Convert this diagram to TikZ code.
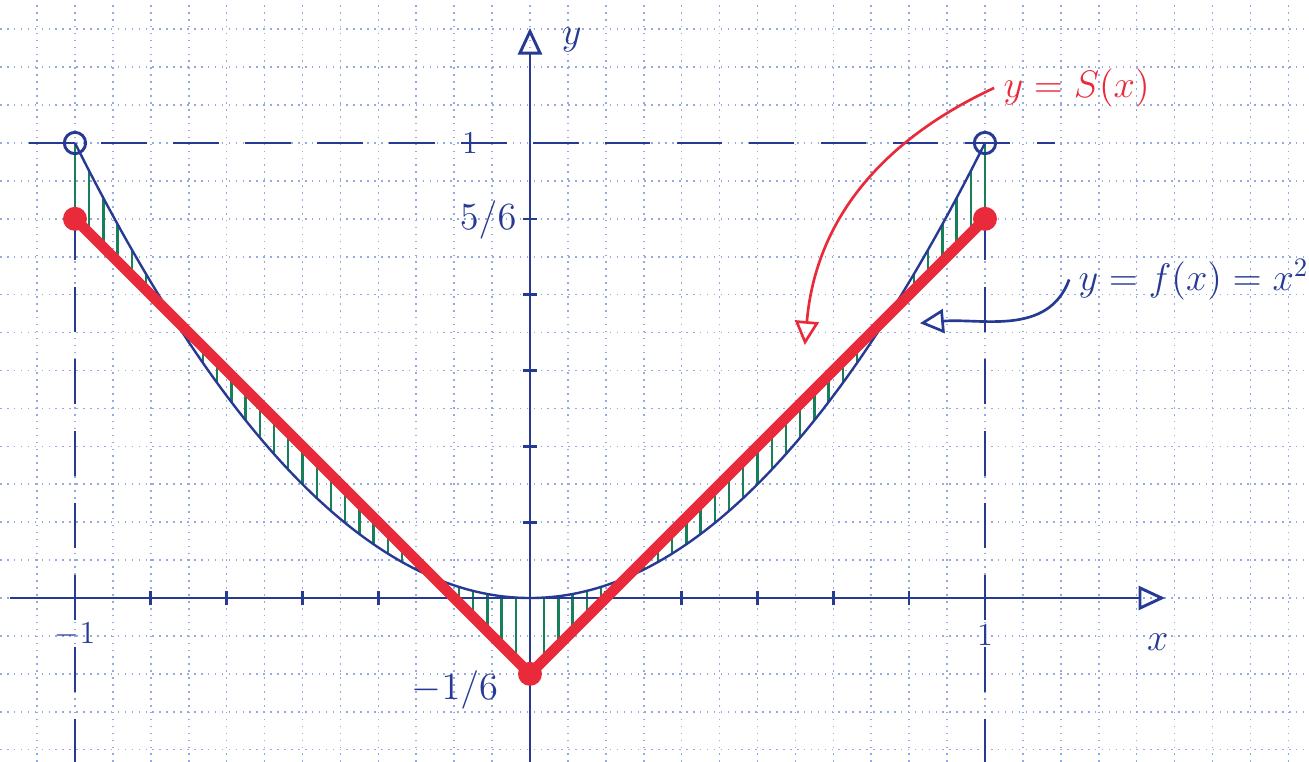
\documentclass[tikz,border=0pt]{standalone}
\usepackage{tikz}
\usetikzlibrary{arrows.meta,positioning}
\definecolor{PenBlue}{RGB}{38,58,148}
\definecolor{PenRed}{RGB}{232,42,58}
\definecolor{PenGreen}{RGB}{24,128,88}
\definecolor{GridBlue}{RGB}{150,170,225}

\begin{document}
\begin{tikzpicture}[
  x=6cm,y=6cm,
  gridline/.style={draw=GridBlue,line width=0.6pt,dotted},
  axis/.style={draw=PenBlue,line width=1.1pt,-{Triangle[open,length=10pt,width=9pt]}},
  tick/.style={draw=PenBlue,line width=1pt},
  guide/.style={draw=PenBlue,line width=1.1pt,dash pattern=on 17pt off 10pt},
  curve/.style={draw=PenBlue,line width=0.9pt},
  spline/.style={draw=PenRed,line width=4pt,line join=round},
  hatch/.style={draw=PenGreen,line width=0.9pt},
  knot/.style={circle,fill=PenRed,inner sep=0pt,minimum size=9pt},
  hole/.style={circle,draw=PenBlue,line width=1.1pt,inner sep=0pt,minimum size=8pt},
  lbl/.style={text=PenBlue,font=\large},
  pointer/.style={line width=1pt,-{Triangle[open,length=9pt,width=9pt]}}
]
\useasboundingbox (-1.1648,-0.3604) rectangle (1.7121,1.3143);
\fill[white] (-1.1648,-0.3604) rectangle (1.7121,1.3143);
\foreach \k in {-13,...,20} \draw[gridline] (\k/12,-0.3604) -- (\k/12,1.3143);
\foreach \k in {-4,...,15} \draw[gridline] (-1.1648,\k/12) -- (1.7121,\k/12);
\draw[guide] (-1.1,1) -- (1.154,1);
\draw[guide] (-1,1) -- (-1,-0.3604);
\draw[guide] (1,1) -- (1,-0.3604);
\foreach \k in {0,...,64} \draw[hatch] ({-1+\k/32},{(-1+\k/32)^2}) -- ({-1+\k/32},{abs(-1+\k/32)-1/6});
\coordinate (xs) at (-1.143,0);
\coordinate (xe) at (1.396,0);
\coordinate (ys) at (0,-0.3604);
\coordinate (ye) at (0,1.253);
\draw[axis] (xs) -- (xe);
\draw[axis] (ys) -- (ye);
\foreach \k in {-6,...,6} \draw[tick] (\k/6,-0.016) -- (\k/6,0.016);
\foreach \k in {1,...,5} \draw[tick] (-0.016,\k/6) -- (0.016,\k/6);
\draw[curve] plot[domain=-1:1,samples=80,smooth] (\x,{\x*\x});
\coordinate (sl) at (-1,5/6);
\coordinate (sm) at (0,-1/6);
\coordinate (sr) at (1,5/6);
\draw[spline] (sl) -- (sm) -- (sr);
\node[knot] (kl) at (sl) {};
\node[knot] (km) at (sm) {};
\node[knot] (kr) at (sr) {};
\node[hole] (pl) at (-1,1) {};
\node[hole] (pr) at (1,1) {};
\node[lbl] (xm) at (-1,-0.081) {$-1$};
\node[lbl] (xp) at (1,-0.081) {$1$};
\node[lbl,font=\Large] (xn) at (1.38,-0.097) {$x$};
\node[lbl,font=\Large] (yn) at (0.092,1.226) {$y$};
\node[lbl] (yone) at (-0.132,1) {$1$};
\node[lbl,font=\Large] (yfive) at (-0.092,0.831) {$5/6$};
\node[lbl,font=\Large] (ymin) at (-0.165,-0.202) {$-1/6$};
\node[text=PenRed,font=\Large,anchor=west] (slabel) at (1.02,1.121) {$y=S(x)$};
\coordinate (stip) at (0.604,0.556);
\draw[pointer,draw=PenRed] (slabel.west) to[out=205,in=85] (stip);
\node[text=PenBlue,font=\Large,anchor=west] (flabel) at (1.185,0.70) {$y=f(x)=x^2$};
\coordinate (ftip) at (0.857,0.604);
\draw[pointer,draw=PenBlue] (flabel.west) to[out=250,in=5] (ftip);
\end{tikzpicture}
\end{document}
